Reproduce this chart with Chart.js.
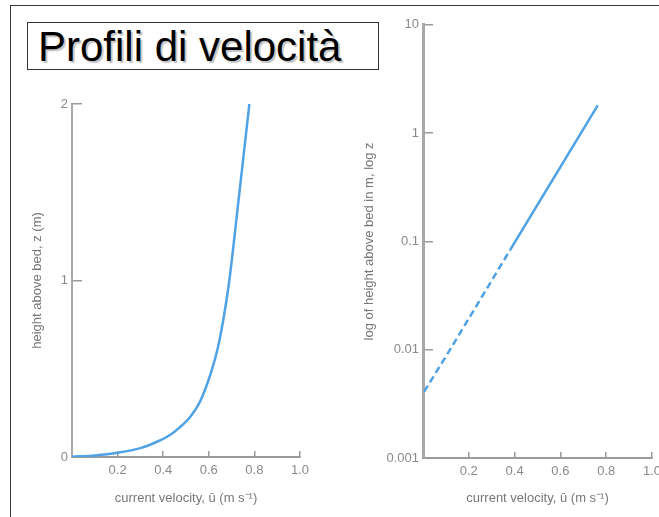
<!DOCTYPE html>
<html>
<head>
<meta charset="utf-8">
<script src="https://cdn.jsdelivr.net/npm/chart.js@4/dist/chart.umd.min.js"></script>
<style>
  html, body { margin:0; padding:0; background:#fff; width:659px; height:517px; overflow:hidden; position:relative; }
  #frame { position:absolute; left:10px; top:5px; width:720px; height:600px; border-top:1.5px solid #3a3a3a; border-left:1.5px solid #3a3a3a; box-sizing:border-box; }
  #title { position:absolute; left:27px; top:22px; width:352px; height:48px; border:1px solid #333; background:#fff; box-sizing:border-box;
           font-family:"Liberation Sans", Arial, sans-serif; font-size:42px; line-height:46px; padding-left:10px; padding-top:1px; color:#000;
           text-shadow:2px 2px 1px #c4c4c4; white-space:nowrap; z-index:3; }
  #leftWrap { position:absolute; left:12px; top:70px; width:320px; height:440px; }
  #rightWrap { position:absolute; left:340px; top:3px; width:340px; height:507px; }
</style>
</head>
<body>
<div id="frame"></div>
<div id="title">Profili di velocità</div>
<div id="leftWrap"><canvas id="leftChart" width="320" height="440"></canvas></div>
<div id="rightWrap"><canvas id="rightChart" width="340" height="507"></canvas></div>
<script>
// ---- data ----
const leftVelocity = [0, 0.1, 0.2, 0.3, 0.37, 0.43, 0.47, 0.52, 0.56, 0.61, 0.64, 0.664, 0.69, 0.73, 0.778];
const leftHeight   = [0.002, 0.009, 0.024, 0.05, 0.085, 0.125, 0.165, 0.23, 0.31, 0.48, 0.62, 0.78, 1.0, 1.45, 2.0];

const rightDashedVelocity = [0.005, 0.118, 0.38];
const rightDashedHeight   = [0.0041, 0.01, 0.083];
const rightSolidVelocity  = [0.38, 0.763];
const rightSolidHeight    = [0.083, 1.8];

const xTickValues = [0, 0.2, 0.4, 0.6, 0.8, 1.0];
const xTickLabels = ['', '0.2', '0.4', '0.6', '0.8', '1.0'];
const leftYTickValues = [0, 1, 2];
const leftYTickLabels = ['0', '1', '2'];
const rightYTickValues = [0.001, 0.01, 0.1, 1, 10];
const rightYTickLabels = ['0.001', '0.01', '0.1', '1', '10'];

const xTitle = 'current velocity, ū (m s⁻¹)';
const leftYTitle = 'height above bed, z (m)';
const rightYTitle = 'log of height above bed in m, log z';

// ---- styling ----
const FONT = '"Liberation Sans", Arial, sans-serif';
const tickFont = { family: FONT, size: 13 };
const titleFont = { family: FONT, size: 13 };
const lineBlue = '#4fa2e6';
const tickColor = '#8a8a8a';
const axisColor = '#9a9a9a';

function xAxis(height) {
  return {
    type: 'linear', min: 0, max: 1,
    afterBuildTicks: s => { s.ticks = xTickValues.map(v => ({ value: v })); },
    afterFit: s => { s.height = height; },
    grid: { drawOnChartArea: false, drawTicks: true, tickLength: -6, color: axisColor, lineWidth: 1.5 },
    border: { display: true, color: axisColor, width: 2 },
    ticks: { padding: 12, color: tickColor, font: tickFont, maxRotation: 0, autoSkip: false,
             callback: (v, i) => xTickLabels[i] },
    title: { display: true, text: xTitle, color: '#777', font: titleFont, padding: { top: 0, bottom: 4 } }
  };
}

function yAxis(opts) {
  return Object.assign({
    afterBuildTicks: s => { s.ticks = opts.values.map(v => ({ value: v })); },
    afterFit: s => { s.width = opts.width; },
    grid: { drawOnChartArea: false, drawTicks: true, tickLength: -10, color: axisColor, lineWidth: 1.5 },
    border: { display: true, color: '#a8a8a8', width: opts.borderWidth },
    ticks: { padding: 14, color: tickColor, font: tickFont, autoSkip: false,
             callback: (v, i) => opts.labels[i] },
    title: { display: true, text: opts.title, color: '#777', font: titleFont, padding: { top: opts.titlePad, bottom: 0 } }
  }, opts.extra);
}

const common = {
  responsive: false,
  animation: false,
  plugins: { legend: { display: false }, tooltip: { enabled: false } },
  elements: { point: { radius: 0 } }
};

new Chart(document.getElementById('leftChart'), {
  type: 'line',
  data: {
    datasets: [{
      data: leftVelocity.map((v, i) => ({ x: v, y: leftHeight[i] })),
      borderColor: lineBlue, borderWidth: 2.5, cubicInterpolationMode: 'monotone', fill: false
    }]
  },
  options: Object.assign({}, common, {
    layout: { padding: { top: 34, right: 32, left: 0, bottom: 0 } },
    scales: {
      x: xAxis(53),
      y: yAxis({ values: leftYTickValues, labels: leftYTickLabels, width: 60, borderWidth: 2,
                 title: leftYTitle, titlePad: 18, extra: { type: 'linear', min: 0, max: 2 } })
    }
  })
});

new Chart(document.getElementById('rightChart'), {
  type: 'line',
  data: {
    datasets: [{
      data: rightDashedVelocity.map((v, i) => ({ x: v, y: rightDashedHeight[i] })),
      borderColor: lineBlue, borderWidth: 2.5, borderDash: [7, 4], fill: false
    }, {
      data: rightSolidVelocity.map((v, i) => ({ x: v, y: rightSolidHeight[i] })),
      borderColor: lineBlue, borderWidth: 2.5, fill: false
    }]
  },
  options: Object.assign({}, common, {
    layout: { padding: { top: 14, right: 28, left: 0, bottom: 0 } },
    scales: {
      x: xAxis(52),
      y: yAxis({ values: rightYTickValues, labels: rightYTickLabels, width: 83, borderWidth: 3,
                 title: rightYTitle, titlePad: 22, extra: { type: 'logarithmic', min: 0.001, max: 10 } })
    }
  })
});
</script>
</body>
</html>
